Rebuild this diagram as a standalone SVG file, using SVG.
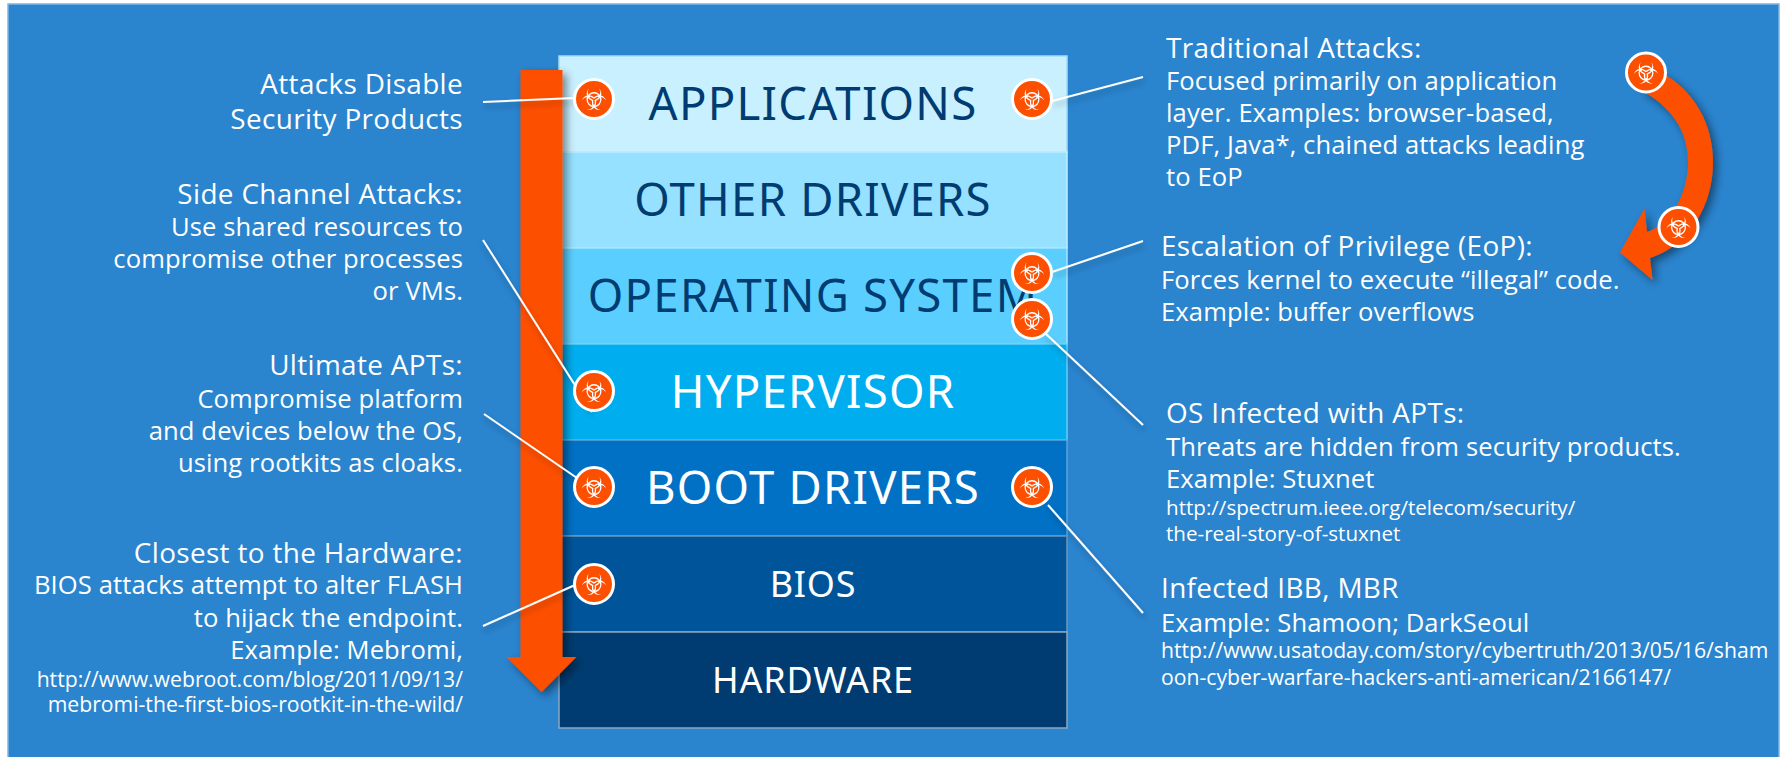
<svg xmlns="http://www.w3.org/2000/svg" width="1785" height="757" viewBox="0 0 1785 757">
<style>
.a{font-family:"Open Sans","Noto Sans",sans-serif;fill:#fff;font-size:27.9px;letter-spacing:.35px}
.b{font-size:25.6px;letter-spacing:.1px}
.u{font-size:21.2px;letter-spacing:0}
.r{text-anchor:end}
.l{font-family:"Noto Sans","Open Sans",sans-serif;text-anchor:middle;font-size:45.5px;letter-spacing:1.25px;fill:#003c71}
.w{fill:#fff}
.m{font-size:36px;letter-spacing:.8px}
.c{stroke:#fff;stroke-width:2;fill:none}
</style>
<defs>
<filter id="sh" x="-30%" y="-30%" width="160%" height="160%"><feGaussianBlur in="SourceAlpha" stdDeviation="4"/><feOffset dx="4" dy="4"/><feComponentTransfer><feFuncA type="linear" slope=".45"/></feComponentTransfer><feMerge><feMergeNode/><feMergeNode in="SourceGraphic"/></feMerge></filter>
<filter id="ls" x="-10%" y="-10%" width="120%" height="120%"><feGaussianBlur in="SourceAlpha" stdDeviation="3"/><feOffset dx="1" dy="4"/><feComponentTransfer><feFuncA type="linear" slope=".3"/></feComponentTransfer><feMerge><feMergeNode/><feMergeNode in="SourceGraphic"/></feMerge></filter>
<path id="cr" fill="#fff" d="M-5.15 -11.45A7.5 7.5 0 1 0 5.15 -11.45A6.4 6.4 0 1 1 -5.15 -11.45Z"/>
<g id="bio">
<circle r="19.5" fill="#fd4f00" stroke="#fff" stroke-width="3"/>
<g transform="translate(0 .6) scale(.98)">
<circle r="7" fill="none" stroke="#fff" stroke-width="1.3"/>
<use href="#cr"/><use href="#cr" transform="rotate(120)"/><use href="#cr" transform="rotate(240)"/>
<path d="M0 0V5M0 0L-4.3 -2.5M0 0L4.3 -2.5" stroke="#fd4f00" stroke-width="1.5" fill="none"/>
</g>
</g>
</defs>
<rect width="1785" height="757" fill="#fff"/>
<rect x="8" y="4" width="1771" height="760" fill="#2a84ce" stroke="#7fb5e3" stroke-width="1.5"/>
<g id="stack">
<rect x="559" y="56" width="508" height="96" fill="#c9f0ff" stroke="#a5dcf5" stroke-width="1.5"/>
<rect x="559" y="152" width="508" height="96" fill="#95e1ff" stroke="#c0ecff" stroke-width="1.5"/>
<rect x="559" y="248" width="508" height="96" fill="#5acfff" stroke="#a6e5ff" stroke-width="1.5"/>
<rect x="559" y="344" width="508" height="96" fill="#00aeef" stroke="#66cdf4" stroke-width="1.5"/>
<rect x="559" y="440" width="508" height="96" fill="#0071c5" stroke="#5aa5dc" stroke-width="1.5"/>
<rect x="559" y="536" width="508" height="96" fill="#00559a" stroke="#6a98bf" stroke-width="1.5"/>
<rect x="559" y="632" width="508" height="96" fill="#003c71" stroke="#8ba7c0" stroke-width="1.5"/>
<text class="l" x="813" y="119.5">APPLICATIONS</text>
<text class="l" x="813" y="215.5">OTHER DRIVERS</text>
<text class="l" x="813" y="311.5">OPERATING SYSTEM</text>
<text class="l w" x="813" y="407.5">HYPERVISOR</text>
<text class="l w" x="813" y="503.5">BOOT DRIVERS</text>
<text class="l w m" x="813" y="597">BIOS</text>
<text class="l w m" x="813" y="693">HARDWARE</text>
</g>
<g id="arrows">
<path filter="url(#sh)" fill="#fd4f00" d="M520.5 70H562.5V657H576.5L541.5 692L506.5 657H520.5Z"/>
<path filter="url(#sh)" fill="#fd4f00" d="M1660 72C1695 90 1713 125 1713 162C1713 205 1690 245 1650 258L1652.5 280L1620 252.5L1644.5 208.5L1647 232C1670 225 1688 195 1688 162C1688 130 1670 105 1640 90Z"/>
</g>
<g id="connectors" class="c" filter="url(#ls)">
<path d="M483 102L575 98"/>
<path d="M483 240L592 412"/>
<path d="M484 414L577 478"/>
<path d="M483 626L575 585"/>
<path d="M1143 77L1052 101"/>
<path d="M1143 241L1052 272"/>
<path d="M1143 425L1045 333"/>
<path d="M1143 613L1048 505"/>
</g>
<g id="n-left-1" class="a r"><use href="#bio" x="594" y="99"/><text x="463" y="93.5">Attacks Disable</text><text x="463" y="128.5">Security Products</text></g>
<g id="n-left-2"><use href="#bio" x="594" y="391"/><text class="a r" x="463" y="203.5">Side Channel Attacks:</text><text class="a b r" x="463" y="235.5">Use shared resources to</text><text class="a b r" x="463" y="267.5">compromise other processes</text><text class="a b r" x="463" y="299.5">or VMs.</text></g>
<g id="n-left-3"><use href="#bio" x="594" y="487"/><text class="a r" x="463" y="375">Ultimate APTs:</text><text class="a b r" x="463" y="407.5">Compromise platform</text><text class="a b r" x="463" y="440">and devices below the OS,</text><text class="a b r" x="463" y="472">using rootkits as cloaks.</text></g>
<g id="n-left-4"><use href="#bio" x="594" y="584"/><text class="a r" x="463" y="562.5">Closest to the Hardware:</text><text class="a b r" x="463" y="594">BIOS attacks attempt to alter FLASH</text><text class="a b r" x="463" y="626.5">to hijack the endpoint.</text><text class="a b r" x="463" y="659">Example: Mebromi,</text><text class="a u r" x="463" y="687">http://www.webroot.com/blog/2011/09/13/</text><text class="a u r" x="463" y="712">mebromi-the-first-bios-rootkit-in-the-wild/</text></g>
<g id="n-right-1"><use href="#bio" x="1032" y="99"/><text class="a" x="1166" y="57.5">Traditional Attacks:</text><text class="a b" x="1166" y="90">Focused primarily on application</text><text class="a b" x="1166" y="122">layer. Examples: browser-based,</text><text class="a b" x="1166" y="154">PDF, Java*, chained attacks leading</text><text class="a b" x="1166" y="186">to EoP</text></g>
<g id="n-right-2"><use href="#bio" x="1032" y="273"/><text class="a" x="1161" y="255.5">Escalation of Privilege (EoP):</text><text class="a b" x="1161" y="288.5">Forces kernel to execute “illegal” code.</text><text class="a b" x="1161" y="320.5">Example: buffer overflows</text></g>
<g id="n-right-3"><use href="#bio" x="1032" y="319"/><text class="a" x="1166" y="422.5">OS Infected with APTs:</text><text class="a b" x="1166" y="456">Threats are hidden from security products.</text><text class="a b" x="1166" y="487.5">Example: Stuxnet</text><text class="a" style="font-size:20.6px;letter-spacing:0" x="1166" y="515">http://spectrum.ieee.org/telecom/security/</text><text class="a" style="font-size:20.6px;letter-spacing:0" x="1166" y="541">the-real-story-of-stuxnet</text></g>
<g id="n-right-4"><use href="#bio" x="1032" y="487"/><text class="a" x="1161" y="598">Infected IBB, MBR</text><text class="a b" x="1161" y="632">Example: Shamoon; DarkSeoul</text><text class="a u" x="1161" y="658">http://www.usatoday.com/story/cybertruth/2013/05/16/sham</text><text class="a u" x="1161" y="685">oon-cyber-warfare-hackers-anti-american/2166147/</text></g>
<g id="n-curve"><use href="#bio" x="1646" y="72.5"/><use href="#bio" x="1678.5" y="227"/></g>
</svg>
